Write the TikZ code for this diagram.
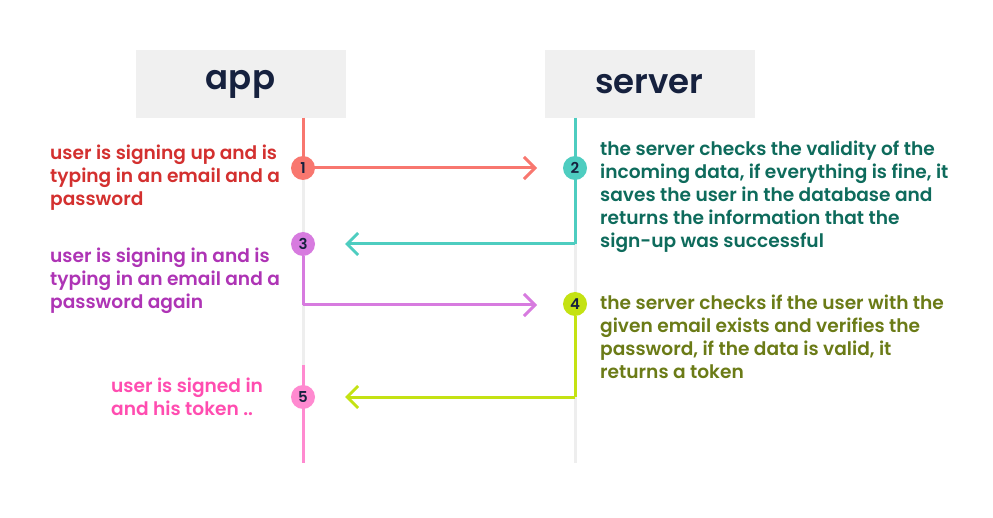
\documentclass[tikz,border=0pt]{standalone}
\usepackage{fontspec}
\setmainfont{Poppins}[BoldFont={Poppins SemiBold}]
\usetikzlibrary{arrows.meta}
\definecolor{navy}{HTML}{16213E}
\definecolor{boxgray}{HTML}{F0F0F0}
\definecolor{lifegray}{HTML}{EEEEEE}
\definecolor{salmon}{HTML}{F8776F}
\definecolor{redtext}{HTML}{D3302F}
\definecolor{teal}{HTML}{4ECDC0}
\definecolor{tealtext}{HTML}{0E6B5C}
\definecolor{orchid}{HTML}{D77BDF}
\definecolor{purpletext}{HTML}{AE34B5}
\definecolor{lime}{HTML}{C4E213}
\definecolor{olivetext}{HTML}{6B7B17}
\definecolor{pink}{HTML}{FF8AD0}
\definecolor{pinktext}{HTML}{FF4DB0}
\begin{document}
\begin{tikzpicture}[x=1pt, y=-1pt,
  head/.style={fill=boxgray, minimum width=210pt, minimum height=68pt, inner sep=0pt,
    text=navy, font=\fontsize{34}{34}\selectfont\bfseries},
  num/.style={circle, minimum size=24pt, inner sep=0pt, text=navy,
    font=\fontsize{15}{15}\selectfont\bfseries},
  note/.style={anchor=base west, align=left, inner sep=0pt,
    font=\fontsize{18.6}{23}\selectfont\bfseries},
  life/.style={line width=3pt},
  msg/.style={line width=3pt, -{Straight Barb[length=11pt,width=22pt]}}]
\useasboundingbox (0, 0) rectangle (993, 518);

\node[head] (app) at (240.5, 84) {app};
\node[head] (server) at (649.5, 84) {server};
\coordinate (append) at (303, 463);
\coordinate (serverend) at (575, 463);
\draw[life, lifegray] (303, 118) -- (append);
\draw[life, lifegray] (575, 118) -- (serverend);

% step 1
\coordinate (in2) at (537, 168);
\draw[life, salmon] (303, 118) -- (303, 168);
\draw[msg, salmon] (303, 168) -- (in2);
\node[num, fill=salmon] (c1) at (303, 168) {1};
\node[note, text=redtext] (t1) at (50, 206)
  {user is signing up and is\\typing in an email and a\\password};

% step 2
\coordinate (turn2) at (575, 244);
\coordinate (in3) at (345, 244);
\draw[life, teal] (575, 118) -- (turn2);
\draw[msg, teal] (turn2) -- (in3);
\node[num, fill=teal] (c2) at (575, 168) {2};
\node[note, text=tealtext] (t2) at (600, 248)
  {the server checks the validity of the\\incoming data, if everything is fine, it\\saves the user in the database and\\returns the information that the\\sign-up was successful};

% step 3
\coordinate (turn3) at (303, 305);
\coordinate (in4) at (537, 305);
\node[num, fill=orchid] (c3) at (303, 244) {3};
\draw[life, orchid] (c3) -- (turn3);
\draw[msg, orchid] (turn3) -- (in4);
\node[note, text=purpletext] (t3) at (50, 309)
  {user is signing in and is\\typing in an email and a\\password again};

% step 4
\coordinate (turn4) at (575, 397);
\coordinate (in5) at (345, 397);
\node[num, fill=lime] (c4) at (575, 304) {4};
\draw[life, lime] (c4) -- (turn4);
\draw[msg, lime] (turn4) -- (in5);
\node[note, text=olivetext] (t4) at (600, 378)
  {the server checks if the user with the\\given email exists and verifies the\\password, if the data is valid, it\\returns a token};

% step 5
\draw[life, pink] (303, 365) -- (append);
\node[num, fill=pink] (c5) at (303, 397) {5};
\node[note, text=pinktext] (t5) at (111, 415)
  {user is signed in\\and his token ..};
\end{tikzpicture}
\end{document}
